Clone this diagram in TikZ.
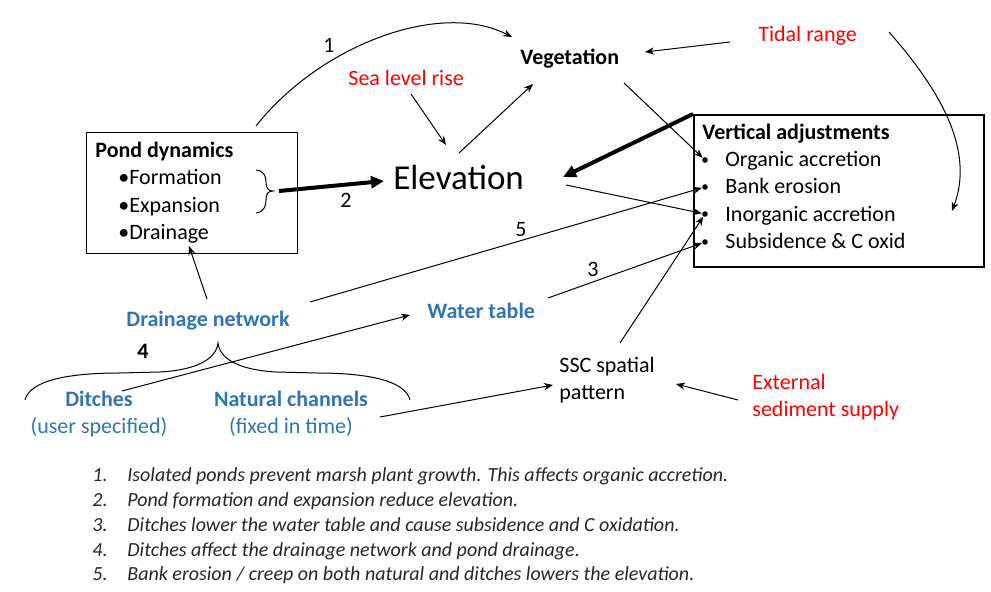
\documentclass[tikz,border=0pt]{standalone}
\usepackage{fontspec}
\setmainfont{Carlito}
\usepackage{tikz}
\usetikzlibrary{arrows.meta}
\definecolor{netblue}{HTML}{2E75B6}

\begin{document}
\begin{tikzpicture}[x=0.5pt, y=-0.5pt,
  every node/.style={inner sep=0pt, anchor=base west, font=\fontsize{11}{13.5}\selectfont},
  head/.style={font=\fontsize{11}{13.5}\selectfont\bfseries},
  drv/.style={text=red},
  net/.style={text=netblue},
  box/.style={draw, anchor=north west},
  dot/.style={circle, fill, inner sep=0pt, minimum size=2.8pt, anchor=center},
  arr/.style={-{Stealth[length=4.5pt,width=3.6pt]}, line width=0.5pt},
  big/.style={-{Triangle[length=6.5pt,width=6pt]}, line width=2pt}]
  \useasboundingbox (0,0) rectangle (991,592);
  % boxes
  \node[box, line width=0.6pt, minimum width=105.5pt, minimum height=60.5pt] (pond) at (86,132) {};
  \node[box, line width=1pt, minimum width=145pt, minimum height=76pt] (vert) at (693,114) {};
  % pond dynamics
  \node[head] (pondt) at (95,158) {Pond dynamics};
  \node (form) at (118,185) {•Formation};
  \node (expa) at (118,213) {•Expansion};
  \node (drai) at (118,240) {•Drainage};
  \draw[line width=0.5pt] (256,170) .. controls (264,171) and (266,176) .. (266,182)
    .. controls (266,188) and (268,191) .. (273,191)
    .. controls (268,191) and (266,194) .. (266,200)
    .. controls (266,206) and (264,212) .. (256,213);
  % vertical adjustments
  \node[head] (vertt) at (702,140) {Vertical adjustments};
  \node (orga) at (725,167) {Organic accretion};
  \node (bank) at (725,194) {Bank erosion};
  \node (inor) at (725,222) {Inorganic accretion};
  \node (subs) at (725,249) {Subsidence \& C oxid};
  \node[dot] (b1) at (705,160) {};
  \node[dot] (b2) at (705,187) {};
  \node[dot] (b3) at (705,214) {};
  \node[dot] (b4) at (705,242) {};
  % main factors
  \node[font=\fontsize{17.5}{20}\selectfont] (elev) at (393,190) {Elevation};
  \node[head] (veg) at (520,65) {Vegetation};
  \node[drv] (slr) at (348,86) {Sea level rise};
  \node[drv] (tide) at (758,42) {Tidal range};
  \node[head, net] (dnet) at (126,327) {Drainage network};
  \node[head, net] (wtab) at (427,319) {Water table};
  \node[head, net, anchor=base] (ditch) at (99,407) {Ditches};
  \node[net, anchor=base] (ditchn) at (99,434) {(user specified)};
  \node[head, net, anchor=base] (chan) at (291,407) {Natural channels};
  \node[net, anchor=base] (chann) at (291,434) {(fixed in time)};
  \node (ssc) at (559,373) {SSC spatial};
  \node (sscb) at (559,400) {pattern};
  \node[drv] (ext) at (752,390) {External};
  \node[drv] (extb) at (752,417) {sediment supply};
  % numbers
  \node (n1) at (323,53) {1};
  \node (n2) at (340,208) {2};
  \node (n3) at (587,277) {3};
  \node[head] (n4) at (137,359) {4};
  \node (n5) at (515,237) {5};
  % connector ends
  \coordinate (pond-up) at (256,126);
  \coordinate (veg-in) at (512,37);
  \coordinate (veg-r) at (645,52);
  \coordinate (veg-b) at (533,84);
  \coordinate (veg-out) at (624,83);
  \coordinate (slr-out) at (411,94);
  \coordinate (elev-top) at (446,145);
  \coordinate (elev-up) at (459,153);
  \coordinate (elev-l) at (384,181);
  \coordinate (elev-r) at (563,177);
  \coordinate (elev-out) at (566,185);
  \coordinate (brace-tip) at (279,191);
  \coordinate (tide-l) at (730,42);
  \coordinate (tide-r) at (889,32);
  \coordinate (vert-in) at (952,211);
  \coordinate (dnet-up) at (207,299);
  \coordinate (dnet-r) at (310,302);
  \coordinate (drai-in) at (189,246);
  \coordinate (wtab-l) at (410,315);
  \coordinate (wtab-r) at (548,298);
  \coordinate (ditch-out) at (122,391);
  \coordinate (chan-out) at (380,417);
  \coordinate (ssc-l) at (553,385);
  \coordinate (ssc-r) at (676,384);
  \coordinate (ssc-up) at (620,343);
  \coordinate (ext-l) at (738,400);
  % connectors
  \draw[arr] (pond-up) .. controls (320,45) and (440,0) .. (veg-in);
  \draw[arr] (slr-out) -- (elev-top);
  \draw[arr] (elev-up) -- (veg-b);
  \draw[arr] (tide-l) -- (veg-r);
  \draw[arr] (tide-r) .. controls (940,90) and (975,150) .. (vert-in);
  \draw[big] (brace-tip) -- (elev-l);
  \draw[big] (vert.north west) -- (elev-r);
  \draw[arr] (veg-out) -- (b1);
  \draw[arr] (elev-out) -- (b3);
  \draw[arr] (dnet-r) -- (b2);
  \draw[arr] (wtab-r) -- (b4);
  \draw[arr] (ssc-up) -- (b3);
  \draw[arr] (dnet-up) -- (drai-in);
  \draw[arr] (ditch-out) -- (wtab-l);
  \draw[arr] (chan-out) -- (ssc-l);
  \draw[arr] (ext-l) -- (ssc-r);
  % drainage network brace
  \draw[line width=0.5pt] (25,400) .. controls (30,380) and (70,373) .. (120,373) -- (160,372)
    .. controls (195,370) and (216,360) .. (218,343)
    .. controls (220,360) and (241,370) .. (276,372) -- (316,373)
    .. controls (366,373) and (405,380) .. (410,400);
  % notes
  \node[font=\fontsize{10}{12.35}\selectfont\itshape, text=black!85] (notes) at (92,482) {%
    \begin{tabular}[t]{@{}p{17.5pt}@{}l@{}}
      1. & Isolated ponds prevent marsh plant growth. This affects organic accretion.\\
      2. & Pond formation and expansion reduce elevation.\\
      3. & Ditches lower the water table and cause subsidence and C oxidation.\\
      4. & Ditches affect the drainage network and pond drainage.\\
      5. & Bank erosion / creep on both natural and ditches lowers the elevation.
    \end{tabular}};
\end{tikzpicture}
\end{document}
